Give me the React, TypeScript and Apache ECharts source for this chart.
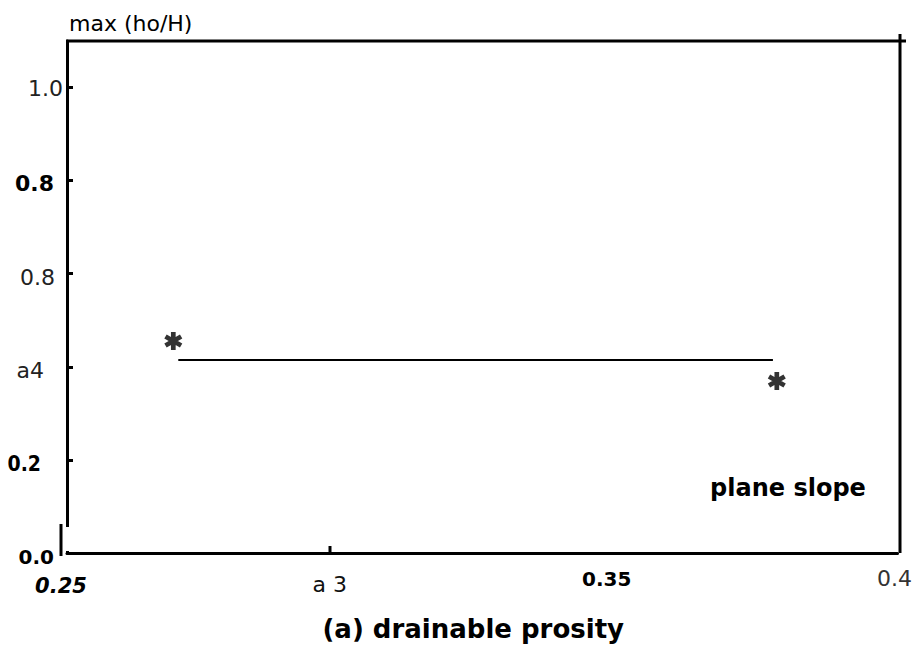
import React, { useEffect, useRef } from "react";
import * as echarts from "echarts";

// ---- data ----
const xTickValues = [0.25, 0.3, 0.35, 0.4];
const xTickLabels = ["0.25", "a 3", "0.35", "0.4"];
const yTickValues = [0.0, 0.2, 0.4, 0.6, 0.8, 1.0];
const yTickLabels = ["0.0", "0.2", "a4", "0.8", "0.8", "1.0"];
const pointX = [0.2692, 0.3782];
const pointY = [0.4555, 0.3695];
const lineX = [0.2701, 0.3775];
const lineY = [0.4147, 0.4147];
const xAxisTitle = "(a) drainable prosity";
const yAxisTitle = "max (ho/H)";
const annotation = "plane slope";

const ASTERISK =
  "path://M-2.6,-10L2.6,-10L2.6,10L-2.6,10Z" +
  "M7.36,-7.25L9.96,-2.75L-7.36,7.25L-9.96,2.75Z" +
  "M9.96,2.75L7.36,7.25L-9.96,-2.75L-7.36,-7.25Z";

const FONT = "DejaVu Sans";
const NARROW = "Liberation Sans Narrow, DejaVu Sans Condensed, DejaVu Sans";

export default function App() {
  const ref = useRef<HTMLDivElement>(null);
  useEffect(() => {
    if (!ref.current) return;
    const chart = echarts.init(ref.current, null, { renderer: "svg" });
    const xKey = (v: number) => Math.round(v * 100);
    const yKey = (v: number) => Math.round(v * 10);
    const xRich: Record<string, any> = {
      x0: { fontFamily: FONT, fontWeight: "bold", fontStyle: "italic", fontSize: 21, color: "#000", padding: [15, 12, 0, 0], lineHeight: 24 },
      x1: { fontFamily: FONT, fontSize: 22, color: "#111", padding: [12, 28, 0, 0], lineHeight: 24 },
      x2: { fontFamily: FONT, fontWeight: "bold", fontSize: 20, color: "#000", padding: [2, 28, 0, 0], lineHeight: 24, letterSpacing: -1 },
      x3: { fontFamily: FONT, fontSize: 22, color: "#333", padding: [0, 6, 0, 0], lineHeight: 24 },
    };
    const yRich: Record<string, any> = {
      y0: { fontFamily: FONT, fontWeight: "bold", fontSize: 20, color: "#000", padding: [7, 9, 0, 0], lineHeight: 24 },
      y1: { fontFamily: NARROW, fontWeight: "bold", fontSize: 21, color: "#000", padding: [8, 22, 0, 0], lineHeight: 24 },
      y2: { fontFamily: FONT, fontSize: 22, color: "#222", padding: [8, 19, 0, 0], lineHeight: 24, letterSpacing: 2 },
      y3: { fontFamily: FONT, fontSize: 22, color: "#222", padding: [8, 8, 0, 0], lineHeight: 24 },
      y4: { fontFamily: FONT, fontWeight: "bold", fontSize: 22, color: "#000", padding: [6, 9, 0, 0], lineHeight: 24 },
      y5: { fontFamily: FONT, fontSize: 22, color: "#222", padding: [2, 0, 0, 0], lineHeight: 24 },
    };
    chart.setOption({
      animation: false,
      backgroundColor: "#fff",
      grid: { left: 67, right: 20, top: 41, bottom: 98, containLabel: false },
      xAxis: {
        type: "value",
        min: 0.25,
        max: 0.4,
        interval: 0.05,
        name: xAxisTitle,
        nameLocation: "middle",
        nameGap: 76,
        nameTextStyle: { fontFamily: FONT, fontWeight: "bold", fontSize: 26, color: "#000", verticalAlign: "middle", padding: [0, 18, 0, 0] },
        axisLine: { show: true, onZero: false, lineStyle: { color: "#000", width: 3 } },
        axisTick: { show: false },
        splitLine: { show: false },
        axisLabel: {
          margin: 13,
          showMinLabel: true,
          showMaxLabel: true,
          formatter: (v: number) => {
            const i = xTickValues.findIndex((t) => xKey(t) === xKey(v));
            return i < 0 ? "" : `{x${i}|${xTickLabels[i]}}`;
          },
          rich: xRich,
        },
      },
      yAxis: {
        type: "value",
        min: 0,
        max: 1.1,
        interval: 0.2,
        name: yAxisTitle,
        nameLocation: "end",
        nameGap: 18,
        nameTextStyle: { fontFamily: FONT, fontSize: 22, color: "#000", align: "left", verticalAlign: "middle", padding: [0, 0, 0, 2] },
        axisLine: { show: true, lineStyle: { color: "#000", width: 3 } },
        axisTick: { show: true, inside: true, length: 6, lineStyle: { color: "#000", width: 3 } },
        splitLine: { show: false },
        axisLabel: {
          margin: 4,
          showMaxLabel: false,
          formatter: (v: number) => {
            const i = yTickValues.findIndex((t) => yKey(t) === yKey(v));
            return i < 0 ? "" : `{y${i}|${yTickLabels[i]}}`;
          },
          rich: yRich,
        },
      },
      series: [
        {
          type: "line",
          data: lineX.map((x, i) => [x, lineY[i]]),
          showSymbol: false,
          lineStyle: { color: "#000", width: 2 },
          silent: true,
        },
        {
          type: "scatter",
          data: pointX.map((x, i) => [x, pointY[i]]),
          symbol: ASTERISK,
          symbolSize: 18,
          itemStyle: { color: "#000" },
        },
      ],
      graphic: [
        { type: "line", shape: { x1: 66, y1: 41, x2: 906, y2: 41 }, style: { stroke: "#000", lineWidth: 3 } },
        { type: "line", shape: { x1: 900, y1: 34, x2: 900, y2: 553 }, style: { stroke: "#000", lineWidth: 3 } },
        { type: "rect", shape: { x: 64, y: 527, width: 6, height: 24 }, style: { fill: "#fff" }, z: 100 },
        { type: "line", shape: { x1: 61, y1: 524, x2: 61, y2: 556 }, style: { stroke: "#000", lineWidth: 3 }, z: 101 },
        { type: "line", shape: { x1: 330, y1: 546, x2: 330, y2: 553 }, style: { stroke: "#000", lineWidth: 3 } },
        {
          type: "text",
          x: 788,
          y: 488,
          style: { text: annotation, fontFamily: FONT, fontWeight: "bold", fontSize: 24, fill: "#000", textAlign: "center", textVerticalAlign: "middle" },
        },
      ],
    });
    return () => chart.dispose();
  }, []);
  return <div ref={ref} style={{ width: 921, height: 651, position: "absolute", left: 0, top: 0 }} />;
}
